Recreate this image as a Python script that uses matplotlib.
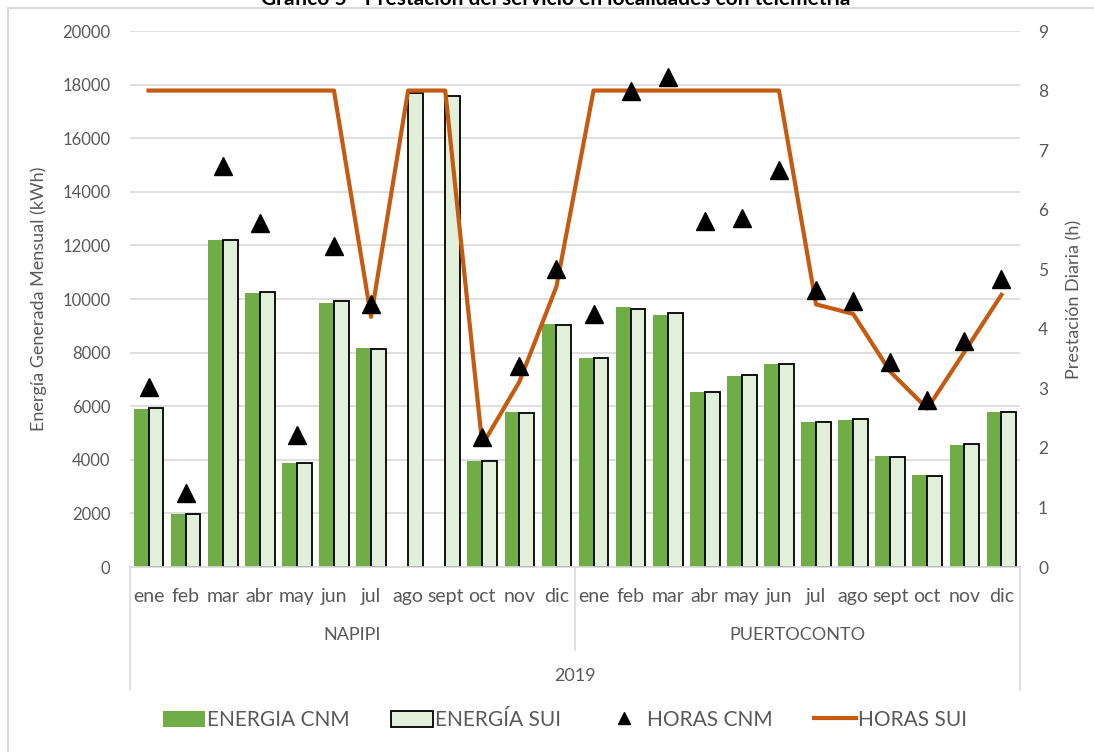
import numpy as np
from matplotlib import pyplot as plt
from matplotlib.patches import Rectangle, Patch
from matplotlib.lines import Line2D

plt.rcParams['font.family'] = ['Lato', 'DejaVu Sans']

# datos
meses = ['ene', 'feb', 'mar', 'abr', 'may', 'jun', 'jul', 'ago', 'sept', 'oct', 'nov', 'dic']
localidades = ['NAPIPI', 'PUERTOCONTO']
anio = '2019'

energia_cnm = [5880, 1970, 12200, 10210, 3890, 9860, 8170, 0, 0, 3955, 5770, 9055,
               7810, 9690, 9400, 6530, 7130, 7575, 5420, 5485, 4130, 3420, 4540, 5780]
energia_sui = [5930, 1960, 12200, 10270, 3880, 9910, 8150, 17680, 17570, 3945, 5760, 9040,
               7810, 9620, 9490, 6520, 7180, 7575, 5410, 5520, 4120, 3410, 4590, 5770]
horas_cnm = [3.02, 1.25, 6.73, 5.78, 2.22, 5.39, 4.41, np.nan, np.nan, 2.19, 3.38, 5.01,
             4.25, 8.0, 8.23, 5.81, 5.86, 6.67, 4.65, 4.46, 3.44, 2.81, 3.80, 4.84]
horas_sui = [8, 8, 8, 8, 8, 8, 4.2, 8, 8, 2.05, 3.11, 4.71,
             8, 8, 8, 8, 8, 8, 4.41, 4.25, 3.28, 2.66, 3.61, 4.57]

verde = '#70AD47'
verde_claro = '#E2EFDA'
naranja = '#C55A11'
gris = '#595959'
gris_linea = '#D9D9D9'

W, H = 1094, 752
fig = plt.figure(figsize=(W / 100, H / 100), dpi=100)
ax = fig.add_axes([130 / W, 1 - 567 / H, 890 / W, 536 / H])

x = np.arange(len(energia_cnm))
ancho = 0.4
ax.bar(x - 0.2, energia_cnm, width=ancho, color=verde, zorder=2)
ax.bar(x + 0.2, energia_sui, width=ancho, color=verde_claro, edgecolor='black', linewidth=1.3, zorder=2)

ax.set_xlim(-0.5, len(x) - 0.5)
ax.set_ylim(0, 20000)
ax.set_yticks(range(0, 20001, 2000))
ax.yaxis.grid(True, color=gris_linea, linewidth=1.2)
ax.set_axisbelow(True)
for s in ['top', 'left', 'right']:
    ax.spines[s].set_visible(False)
ax.spines['bottom'].set_color(gris_linea)
ax.spines['bottom'].set_linewidth(1.2)

ax.set_xticks(x, meses * 2)
ax.tick_params(axis='x', length=0, pad=15, labelsize=14, labelcolor=gris)
ax.tick_params(axis='y', length=0, pad=14, labelsize=12, labelcolor=gris)
ax.set_ylabel('Energía Generada Mensual (kWh)', fontsize=13, color=gris)
ax.yaxis.set_label_coords(-0.093, 0.5)

# niveles de categoría
tr = ax.get_xaxis_transform()
ax.text(5.5, -0.127, localidades[0], transform=tr, ha='center', va='center', fontsize=13, color=gris)
ax.text(17.5, -0.127, localidades[1], transform=tr, ha='center', va='center', fontsize=13, color=gris)
ax.text(11.5, -0.203, anio, transform=tr, ha='center', va='center', fontsize=13, color=gris)
for xf, y_fin in [(0, -0.229), (0.5, -0.155), (1, -0.229)]:
    ax.add_line(Line2D([xf, xf], [0, y_fin], transform=ax.transAxes, color=gris_linea,
                       linewidth=1.2, clip_on=False))

ax2 = ax.twinx()
ax2.plot(x, horas_sui, color=naranja, linewidth=3, zorder=3)
ax2.plot(x, horas_cnm, linestyle='none', marker='^', color='black', markersize=13, zorder=4)
ax2.set_ylim(0, 9)
ax2.set_yticks(range(0, 10))
for s in ax2.spines.values():
    s.set_visible(False)
ax2.tick_params(axis='y', length=0, pad=13, labelsize=12.5, labelcolor=gris)
ax2.set_ylabel('Prestación Diaria (h)', fontsize=13, color=gris)
ax2.yaxis.set_label_coords(1.052, 0.5)

# leyenda
handles = [Patch(facecolor=verde, edgecolor='none'),
           Patch(facecolor=verde_claro, edgecolor='black', linewidth=1.3),
           Line2D([], [], linestyle='none', marker='^', color='black', markersize=9),
           Line2D([], [], color=naranja, linewidth=3)]
labels = ['ENERGIA CNM', 'ENERGÍA SUI', 'HORAS CNM', 'HORAS SUI']
fig.legend(handles, labels, loc='center', bbox_to_anchor=(565 / W, 1 - 720 / H), ncol=4,
           frameon=False, fontsize=15, labelcolor=gris, handlelength=2.0, handleheight=0.8,
           handletextpad=0.1, columnspacing=2.0)

# título y borde
fig.text(556 / W, 1 - 5 / H, 'Gráfico 5 - Prestación del servicio en localidades con telemetría',
         ha='center', va='baseline', fontsize=15, fontweight='bold', color='black')
fig.patches.append(Rectangle((8 / W, -0.1), 1.2, 1.1 - 8 / H, transform=fig.transFigure,
                             fill=False, edgecolor=gris_linea, linewidth=1.5))

fig.savefig('out.png', dpi=100)
